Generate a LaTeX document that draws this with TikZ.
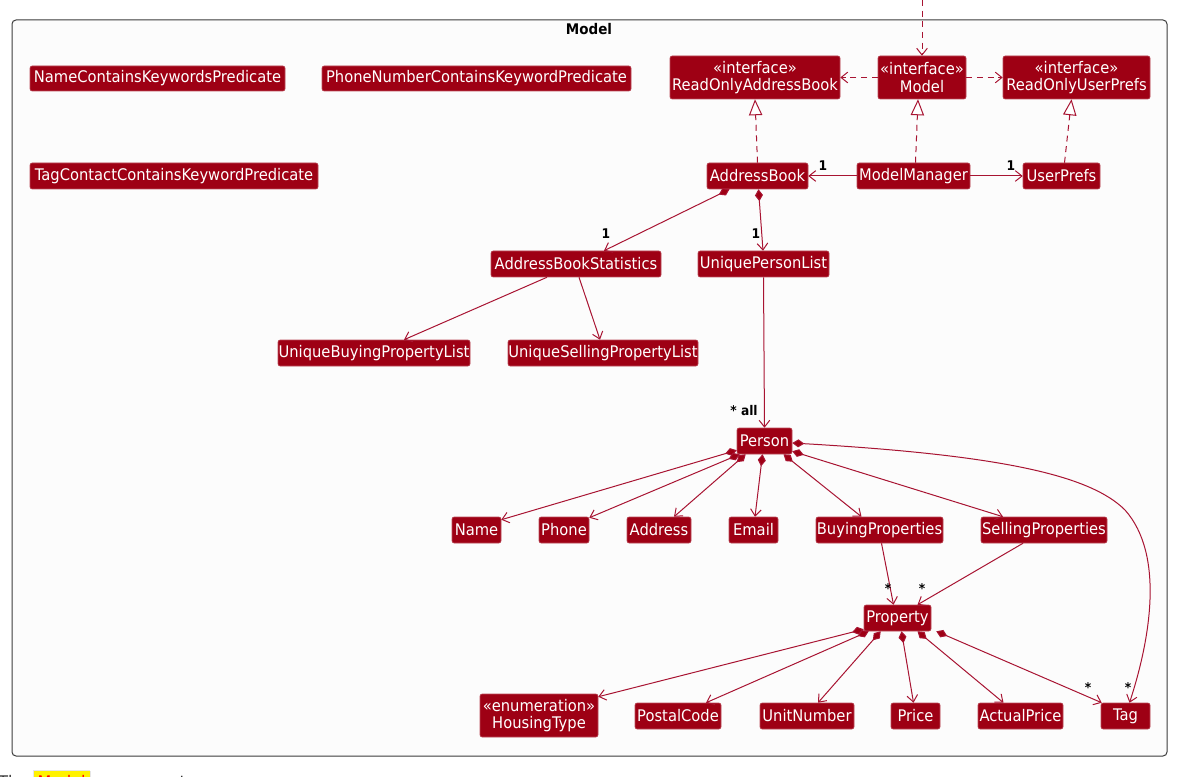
\documentclass[tikz,border=0pt]{standalone}
\usepackage{fontspec}
\setmainfont{DejaVu Sans}
\newfontfamily\nf[FakeStretch=0.92]{DejaVu Sans}
\usetikzlibrary{arrows.meta,calc}
\definecolor{cred}{RGB}{158,0,20}
\definecolor{cline}{RGB}{168,20,50}
\definecolor{cframe}{RGB}{60,60,60}
\tikzset{
  cls/.style={fill=cred, draw=cred!70!white, line width=0.4pt, rounded corners=1.5pt,
    text=white, inner sep=0pt, align=center, font=\nf\fontsize{12pt}{13pt}\selectfont},
  sz/.style 2 args={minimum width=#1*0.75pt, minimum height=#2*0.75pt},
  edge/.style={draw=cline, line width=0.75pt},
  tipv/.tip={Straight Barb[length=5pt,width=8pt,line width=0.75pt]},
  assoc/.style={edge, -tipv},
  comp/.style={edge, {Diamond[length=9pt,width=6pt,fill=cred]}-tipv},
  dep/.style={edge, dashed, dash pattern=on 4.5pt off 3.5pt, -tipv},
  real/.style={edge, dashed, dash pattern=on 4.5pt off 3.5pt, -{Triangle[open,length=12pt,width=10pt,fill=white,line width=0.75pt]}},
  lbl/.style={font=\nf\bfseries\fontsize{10pt}{11pt}\selectfont, text=black, inner sep=0pt}
}
\begin{document}
\begin{tikzpicture}[x=0.75pt,y=-0.75pt]
\useasboundingbox (0,0) rectangle (1185,777);
\clip (0,0) rectangle (1185,777);
\fill[white] (0,0) rectangle (1185,777);
% frame
\draw[cframe, fill=black!1, line width=0.75pt, rounded corners=3pt] (12,20) rectangle (1167,756);
\node[lbl, font=\nf\bfseries\fontsize{11pt}{12pt}\selectfont] (title) at (589,29) {Model};
% bottom caption (cut)
\node[anchor=base west, inner sep=0pt, text=black!80, font=\fontsize{12pt}{14pt}\selectfont] (cap) at (-2,787)
  {The \fcolorbox{black!10}{yellow}{\textcolor{red}{Model}} component:};

% nodes
\node[cls, sz={255}{25}] (ncp) at (157.5,78.5) {NameContainsKeywordsPredicate};
\node[cls, sz={309}{25}] (pcp) at (476.5,78.5) {PhoneNumberContainsKeywordPredicate};
\node[cls, sz={288}{26}] (tcp) at (174,176) {TagContactContainsKeywordPredicate};
\node[cls, sz={170}{43}] (roab) at (755,77.5) {«interface»\\ReadOnlyAddressBook};
\node[cls, sz={88}{43}] (model) at (922,77.5) {«interface»\\Model};
\node[cls, sz={147}{43}] (roup) at (1076.5,77.5) {«interface»\\ReadOnlyUserPrefs};
\node[cls, sz={101}{26}] (ab) at (757.5,176) {AddressBook};
\node[cls, sz={113}{26}] (mm) at (913.5,176) {ModelManager};
\node[cls, sz={77}{26}] (up) at (1061.5,176) {UserPrefs};
\node[cls, sz={170}{26}] (abs) at (576,264) {AddressBookStatistics};
\node[cls, sz={131}{26}] (upl) at (763.5,264) {UniquePersonList};
\node[cls, sz={192}{26}] (ubpl) at (374,353) {UniqueBuyingPropertyList};
\node[cls, sz={190}{26}] (uspl) at (603,353) {UniqueSellingPropertyList};
\node[cls, sz={55}{26}] (person) at (764.5,441) {Person};
\node[cls, sz={49}{26}] (name) at (476.5,530) {Name};
\node[cls, sz={50}{26}] (phone) at (564,530) {Phone};
\node[cls, sz={64}{26}] (addr) at (659,530) {Address};
\node[cls, sz={49}{26}] (email) at (753.5,530) {Email};
\node[cls, sz={127}{26}] (buy) at (879.5,530) {BuyingProperties};
\node[cls, sz={126}{26}] (sell) at (1044,530) {SellingProperties};
\node[cls, sz={67}{26}] (prop) at (897.5,618) {Property};
\node[cls, sz={118}{43}] (ht) at (539,715.5) {«enumeration»\\HousingType};
\node[cls, sz={86}{26}] (pc) at (678,716) {PostalCode};
\node[cls, sz={94}{26}] (un) at (807,716) {UnitNumber};
\node[cls, sz={49}{26}] (price) at (915.5,716) {Price};
\node[cls, sz={85}{26}] (ap) at (1020.5,716) {ActualPrice};
\node[cls, sz={49}{26}] (tag) at (1125.5,716) {Tag};

% top dependency
\coordinate (topin) at (922,0);
\draw[dep] (topin) -- (model.north);
% interface dependencies
\draw[dep] (model.west) -- (roab.east);
\draw[dep] (model.east) -- (roup.east -| roup.west);
% realizations
\draw[real] (ab.north) -- (roab.south);
\draw[real] ($(mm.north)+(2,0)$) -- ($(model.south)+(-4,0)$);
\draw[real] ($(up.north)+(3,0)$) -- ($(roup.south)+(-5,0)$);
% associations
\draw[assoc] (mm.west) -- (ab.east);
\node[lbl] (l1) at (823,166) {1};
\draw[assoc] (mm.east) -- (up.west);
\node[lbl] (l2) at (1011,166) {1};
% compositions from AddressBook
\draw[comp] ($(ab.south)+(-28,0)$) -- ($(abs.north)+(28,0)$);
\node[lbl] (l3) at (606,234) {1};
\draw[comp] ($(ab.south)+(1,0)$) -- ($(upl.north)+(-0.5,0)$);
\node[lbl] (l4) at (756,234) {1};
% statistics
\draw[assoc] ($(abs.south)+(-29,0)$) -- ($(ubpl.north)+(30,0)$);
\draw[assoc] ($(abs.south)+(3,0)$) -- ($(uspl.north)+(-3,0)$);
% person list
\draw[assoc] (upl.south) -- (person.north);
\node[lbl] (l5) at (744,411) {* all};
% person compositions
\draw[comp] ($(person.south west)+(0,-4)$) -- ($(name.north east)+(0,3)$);
\draw[comp] ($(person.south west)+(3,0)$) -- ($(phone.north east)+(0,1)$);
\draw[comp] ($(person.south west)+(9,0)$) -- ($(addr.north)+(15,0)$);
\draw[comp] ($(person.south)+(-2,0)$) -- ($(email.north)+(1.5,0)$);
\draw[comp] ($(person.south)+(19,0)$) -- ($(buy.north)+(-18,0)$);
\draw[comp] ($(person.south east)+(0,-3)$) -- ($(sell.north)+(-41,0)$);
\draw[comp] ($(person.east)+(0,2)$) .. controls (1000,455) and (1090,475) .. (1125,510)
  .. controls (1165,555) and (1150,640) .. ($(tag.north)+(4,0)$);
\node[lbl] (l6) at (1128,688) {*};
% buying/selling -> property
\draw[assoc] ($(buy.south)+(2,0)$) -- ($(prop.north)+(-4,0)$);
\node[lbl] (l7) at (888,589) {*};
\draw[assoc] ($(sell.south)+(-21,0)$) -- ($(prop.north)+(20,0)$);
\node[lbl] (l8) at (922,589) {*};
% property compositions
\draw[comp] ($(prop.south west)+(0,-2)$) -- ($(ht.north east)+(0,3)$);
\draw[comp] ($(prop.south west)+(5,0)$) -- ($(pc.north)+(28,0)$);
\draw[comp] ($(prop.south west)+(17,0)$) -- ($(un.north)+(11,0)$);
\draw[comp] ($(prop.south)+(4,0)$) -- ($(price.north)+(-2,0)$);
\draw[comp] ($(prop.south)+(20,0)$) -- ($(ap.north)+(-17,0)$);
\draw[comp] ($(prop.south east)+(5,0)$) -- ($(tag.north west)+(1,0)$);
\node[lbl] (l9) at (1088,688) {*};
\end{tikzpicture}
\end{document}
